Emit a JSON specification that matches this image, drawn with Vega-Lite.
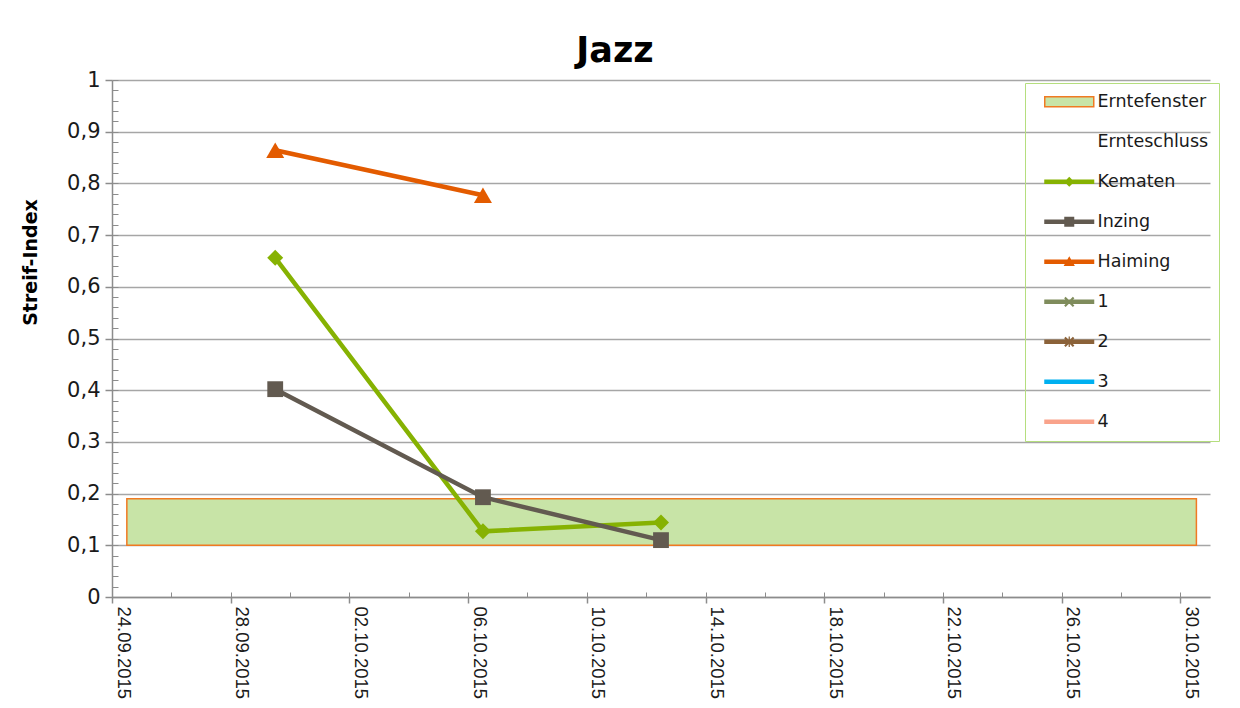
{
  "$schema": "https://vega.github.io/schema/vega-lite/v6.json",
  "width": 1098,
  "height": 517,
  "autosize": {"type": "none"},
  "padding": {"left": 112, "top": 80, "right": 30, "bottom": 111},
  "background": "white",
  "config": {"view": {"stroke": null}, "font": "DejaVu Sans"},
  "title": {"text": "Jazz", "fontSize": 35, "font": "DejaVu Sans", "fontWeight": "bold", "color": "#000000", "anchor": "middle", "dx": -46, "offset": 0},
  "datasets": {
    "band": [{"date": "2015-09-24T12:00:00Z", "end": "2015-10-30T13:00:00Z", "low": 0.1, "high": 0.19}],
    "obs": [
      {"date": "2015-09-29T12:00:00Z", "series": "Kematen", "value": 0.656},
      {"date": "2015-10-06T12:00:00Z", "series": "Kematen", "value": 0.127},
      {"date": "2015-10-12T12:00:00Z", "series": "Kematen", "value": 0.144},
      {"date": "2015-09-29T12:00:00Z", "series": "Inzing", "value": 0.402},
      {"date": "2015-10-06T12:00:00Z", "series": "Inzing", "value": 0.193},
      {"date": "2015-10-12T12:00:00Z", "series": "Inzing", "value": 0.110},
      {"date": "2015-09-29T12:00:00Z", "series": "Haiming", "value": 0.864},
      {"date": "2015-10-06T12:00:00Z", "series": "Haiming", "value": 0.777}
    ]
  },
  "resolve": {"axis": {"x": "independent", "y": "independent"}},
  "layer": [
    {
      "data": {"name": "band"},
      "mark": {"type": "rect", "fill": "#C8E4A7", "stroke": "#F07A22", "strokeWidth": 1.5},
      "encoding": {
        "x": {
          "field": "date", "type": "temporal",
          "scale": {"type": "utc", "nice": false, "domain": [{"year": 2015, "month": 9, "date": 24, "utc": true}, {"year": 2015, "month": 10, "date": 31, "utc": true}]},
          "axis": {
            "orient": "bottom",
            "values": [
              {"year": 2015, "month": 9, "date": 24, "utc": true},
              {"year": 2015, "month": 9, "date": 28, "utc": true},
              {"year": 2015, "month": 10, "date": 2, "utc": true},
              {"year": 2015, "month": 10, "date": 6, "utc": true},
              {"year": 2015, "month": 10, "date": 10, "utc": true},
              {"year": 2015, "month": 10, "date": 14, "utc": true},
              {"year": 2015, "month": 10, "date": 18, "utc": true},
              {"year": 2015, "month": 10, "date": 22, "utc": true},
              {"year": 2015, "month": 10, "date": 26, "utc": true},
              {"year": 2015, "month": 10, "date": 30, "utc": true}
            ],
            "format": "%d.%m.%Y",
            "labelAngle": 90,
            "labelFont": "Liberation Sans",
            "labelFontSize": 18.5,
            "labelColor": "#1a1a1a",
            "labelPadding": 3,
            "labelOffset": 11,
            "labelFlush": false,
            "labelOverlap": false,
            "labelBound": false,
            "tickSize": 6,
            "tickColor": "#8C8C8C",
            "tickWidth": 1.5,
            "domainColor": "#8C8C8C",
            "domainWidth": 1.5,
            "grid": false,
            "title": null
          }
        },
        "x2": {"field": "end"},
        "y": {
          "field": "low", "type": "quantitative",
          "scale": {"domain": [0, 1], "nice": false},
          "axis": {
            "orient": "left",
            "values": [0, 0.1, 0.2, 0.3, 0.4, 0.5, 0.6, 0.7, 0.8, 0.9, 1],
            "labelExpr": "replace(format(datum.value, '.1~f'), '.', ',')",
            "labelFont": "DejaVu Sans",
            "labelFontSize": 21,
            "labelColor": "#1a1a1a",
            "labelPadding": 5,
            "labelFlush": false,
            "labelOverlap": false,
            "tickSize": 7,
            "tickColor": "#8C8C8C",
            "tickWidth": 1.5,
            "domainColor": "#8C8C8C",
            "domainWidth": 1.5,
            "grid": true,
            "gridColor": "#A6A6A6",
            "gridWidth": 1.5,
            "title": "Streif-Index",
            "titleFont": "DejaVu Sans",
            "titleFontSize": 19,
            "titleFontWeight": "bold",
            "titleColor": "#000000",
            "titleAngle": -90,
            "titleX": -82,
            "titleY": 182,
            "titleAlign": "center",
            "titleBaseline": "middle"
          }
        },
        "y2": {"field": "high"}
      }
    },
    {
      "data": {"name": "obs"},
      "mark": {"type": "line", "strokeWidth": 4.5},
      "encoding": {
        "x": {
          "field": "date", "type": "temporal", "scale": {"type": "utc"},
          "axis": {
            "orient": "bottom",
            "values": [
              {"year": 2015, "month": 9, "date": 24, "utc": true},
              {"year": 2015, "month": 9, "date": 26, "utc": true},
              {"year": 2015, "month": 9, "date": 28, "utc": true},
              {"year": 2015, "month": 9, "date": 30, "utc": true},
              {"year": 2015, "month": 10, "date": 2, "utc": true},
              {"year": 2015, "month": 10, "date": 4, "utc": true},
              {"year": 2015, "month": 10, "date": 6, "utc": true},
              {"year": 2015, "month": 10, "date": 8, "utc": true},
              {"year": 2015, "month": 10, "date": 10, "utc": true},
              {"year": 2015, "month": 10, "date": 12, "utc": true},
              {"year": 2015, "month": 10, "date": 14, "utc": true},
              {"year": 2015, "month": 10, "date": 16, "utc": true},
              {"year": 2015, "month": 10, "date": 18, "utc": true},
              {"year": 2015, "month": 10, "date": 20, "utc": true},
              {"year": 2015, "month": 10, "date": 22, "utc": true},
              {"year": 2015, "month": 10, "date": 24, "utc": true},
              {"year": 2015, "month": 10, "date": 26, "utc": true},
              {"year": 2015, "month": 10, "date": 28, "utc": true},
              {"year": 2015, "month": 10, "date": 30, "utc": true}
            ],
            "labels": false,
            "domain": false,
            "grid": false,
            "tickSize": -5,
            "tickColor": "#8C8C8C",
            "tickWidth": 1,
            "title": null
          }
        },
        "y": {
          "field": "value", "type": "quantitative",
          "axis": {
            "orient": "left",
            "values": [0, 0.02, 0.04, 0.06, 0.08, 0.1, 0.12, 0.14, 0.16, 0.18, 0.2, 0.22, 0.24, 0.26, 0.28, 0.3, 0.32, 0.34, 0.36, 0.38, 0.4, 0.42, 0.44, 0.46, 0.48, 0.5, 0.52, 0.54, 0.56, 0.58, 0.6, 0.62, 0.64, 0.66, 0.68, 0.7, 0.72, 0.74, 0.76, 0.78, 0.8, 0.82, 0.84, 0.86, 0.88, 0.9, 0.92, 0.94, 0.96, 0.98, 1],
            "labels": false,
            "domain": false,
            "grid": false,
            "tickSize": -6,
            "tickColor": "#8C8C8C",
            "tickWidth": 1,
            "title": null
          }
        },
        "stroke": {
          "field": "series", "type": "nominal",
          "scale": {"domain": ["Kematen", "Inzing", "Haiming"], "range": ["#86B202", "#625A50", "#E35B00"]},
          "legend": null
        }
      }
    },
    {
      "data": {"name": "obs"},
      "transform": [{"filter": "datum.series === 'Kematen'"}],
      "mark": {"type": "point", "filled": true, "opacity": 1, "shape": "diamond", "size": 256, "color": "#86B202"},
      "encoding": {
        "x": {"field": "date", "type": "temporal", "scale": {"type": "utc"}, "axis": null},
        "y": {"field": "value", "type": "quantitative", "axis": null}
      }
    },
    {
      "data": {"name": "obs"},
      "transform": [{"filter": "datum.series === 'Inzing'"}],
      "mark": {"type": "point", "filled": true, "opacity": 1, "shape": "square", "size": 250, "color": "#625A50"},
      "encoding": {
        "x": {"field": "date", "type": "temporal", "scale": {"type": "utc"}, "axis": null},
        "y": {"field": "value", "type": "quantitative", "axis": null}
      }
    },
    {
      "data": {"name": "obs"},
      "transform": [{"filter": "datum.series === 'Haiming'"}],
      "mark": {"type": "point", "filled": true, "opacity": 1, "shape": "triangle-up", "size": 324, "color": "#E35B00"},
      "encoding": {
        "x": {"field": "date", "type": "temporal", "scale": {"type": "utc"}, "axis": null},
        "y": {"field": "value", "type": "quantitative", "axis": null}
      }
    },
    {
      "data": {"name": "obs"},
      "transform": [{"filter": "false"}],
      "mark": {"type": "point", "filled": true, "opacity": 1, "size": 625},
      "encoding": {
        "color": {
          "field": "series", "type": "nominal",
          "scale": {
            "domain": ["Erntefenster", "Ernteschluss", "Kematen", "Inzing", "Haiming", "1", "2", "3", "4"],
            "range": ["#C8E4A7", "rgba(0,0,0,0)", "#86B202", "#625A50", "#E35B00", "#7F8C5C", "#8B6239", "#00B0F0", "#F9A38B"]
          },
          "legend": {
            "orient": "none",
            "legendX": 913,
            "legendY": 3,
            "title": null,
            "padding": 10,
            "strokeColor": "#B5DE7E",
            "labelFont": "DejaVu Sans",
            "labelFontSize": 17.5,
            "labelColor": "#1a1a1a",
            "labelOffset": 45,
            "labelLimit": 300,
            "rowPadding": 21,
            "symbolSize": 625,
            "symbolStrokeWidth": 0,
            "symbolOpacity": 1,
            "encode": {
              "symbols": {
                "update": {
                  "stroke": {"signal": "datum.value === 'Erntefenster' ? '#F07A22' : 'transparent'"},
                  "strokeWidth": {"signal": "datum.value === 'Erntefenster' ? 1.5 : 0"}
                }
              }
            }
          }
        },
        "shape": {
          "field": "series", "type": "nominal",
          "scale": {
            "domain": ["Erntefenster", "Ernteschluss", "Kematen", "Inzing", "Haiming", "1", "2", "3", "4"],
            "range": [
              "M0.08,-0.4L4.0,-0.4L4.0,0.4L0.08,0.4Z",
              "M0.04,-0.18L4.04,-0.18L4.04,0.18L0.04,0.18Z",
              "M0.04,-0.18L4.04,-0.18L4.04,0.18L0.04,0.18Z M2.04,-0.4L2.44,0L2.04,0.4L1.64,0Z",
              "M0.04,-0.18L4.04,-0.18L4.04,0.18L0.04,0.18Z M1.64,-0.4L2.44,-0.4L2.44,0.4L1.64,0.4Z",
              "M0.04,-0.18L4.04,-0.18L4.04,0.18L0.04,0.18Z M2.04,-0.45L2.49,0.33L1.59,0.33Z",
              "M0.04,-0.18L4.04,-0.18L4.04,0.18L0.04,0.18Z M1.75,-0.41L2.45,0.29L2.33,0.41L1.63,-0.29Z M2.33,-0.41L2.45,-0.29L1.75,0.41L1.63,0.29Z",
              "M0.04,-0.18L4.04,-0.18L4.04,0.18L0.04,0.18Z M1.75,-0.41L2.45,0.29L2.33,0.41L1.63,-0.29Z M2.33,-0.41L2.45,-0.29L1.75,0.41L1.63,0.29Z M1.99,-0.42L2.09,-0.42L2.09,0.42L1.99,0.42Z",
              "M0.04,-0.18L4.04,-0.18L4.04,0.18L0.04,0.18Z",
              "M0.04,-0.18L4.04,-0.18L4.04,0.18L0.04,0.18Z"
            ]
          }
        }
      }
    }
  ]
}
